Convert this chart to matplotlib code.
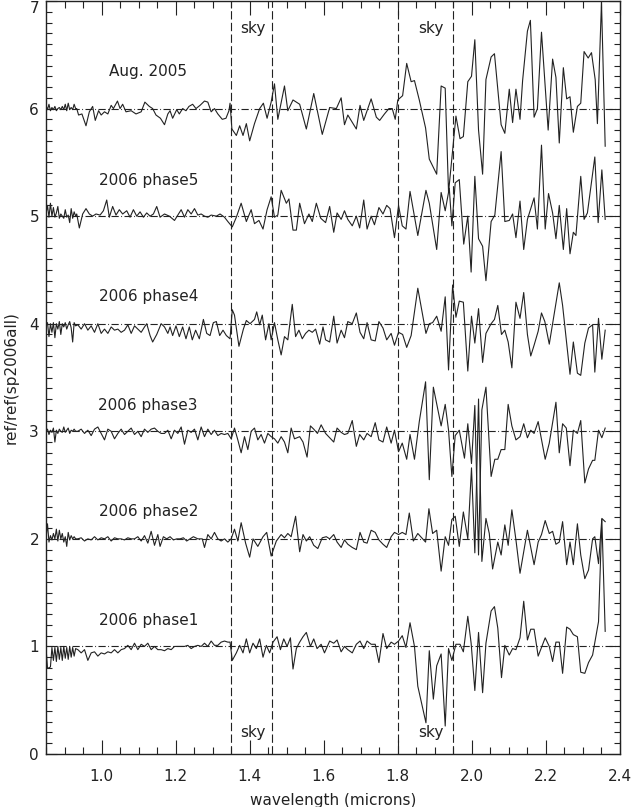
"""比值光谱图：各期 ref/ref(sp2006all)，按 1 的间隔纵向错开。"""

import numpy as np
from matplotlib import pyplot as plt
from matplotlib.ticker import MultipleLocator

plt.rcParams['font.family'] = ['DejaVu Sans']

# ------------------------------------------------------------
# 数据
# ------------------------------------------------------------

# 短波端的密集采样段（各条曲线共用）
dense_wl = [0.850, 0.854, 0.858, 0.862, 0.866, 0.870, 0.874, 0.878, 0.882,
            0.886, 0.890, 0.894, 0.898, 0.902, 0.906, 0.910, 0.914, 0.918,
            0.922, 0.926, 0.930]

# Aug. 2005 （偏移 6）
aug_wl = dense_wl + [
    0.933, 0.938, 0.947, 0.958, 0.967, 0.976, 0.983, 0.992, 0.999, 1.008,
    1.017, 1.026, 1.032, 1.043, 1.050, 1.057, 1.066, 1.080, 1.093, 1.107,
    1.117, 1.129, 1.138, 1.147, 1.159, 1.170, 1.179, 1.185, 1.192, 1.203,
    1.210, 1.219, 1.228, 1.236, 1.246, 1.255, 1.266, 1.278, 1.287, 1.296,
    1.305, 1.314, 1.326, 1.336, 1.344, 1.347, 1.352, 1.364, 1.373, 1.382,
    1.391, 1.400, 1.413, 1.427, 1.437, 1.447, 1.458, 1.467, 1.476, 1.494,
    1.503, 1.517, 1.535, 1.553, 1.573, 1.596,
    1.616, 1.634, 1.647, 1.656, 1.665, 1.688, 1.698, 1.708, 1.728, 1.742,
    1.751, 1.764, 1.776, 1.785, 1.793, 1.800, 1.813, 1.824, 1.836, 1.845,
    1.858, 1.875, 1.885, 1.905, 1.917, 1.928, 1.937, 1.957, 1.968, 1.977,
    1.989, 1.999, 2.008, 2.018, 2.029, 2.038, 2.052, 2.061, 2.079, 2.089,
    2.101, 2.110, 2.119, 2.130, 2.137, 2.150, 2.158, 2.168, 2.177, 2.188,
    2.206, 2.218, 2.227, 2.236, 2.247, 2.256, 2.265, 2.274, 2.285, 2.294,
    2.303, 2.314, 2.323, 2.333, 2.339, 2.350, 2.360]
aug_val = [
    6.03, 5.99, 6.04, 5.98, 6.01, 5.99, 6.02, 5.98, 6.00, 6.01, 5.99, 6.02,
    5.99, 6.04, 5.98, 6.05, 5.99, 6.01, 5.99, 6.04, 6.00,
    6.00, 5.94, 5.95, 5.84, 5.97, 6.02, 5.89, 5.98, 5.94, 5.97,
    5.95, 6.03, 6.00, 6.07, 6.00, 6.04, 5.97, 5.98, 5.95, 5.97,
    6.06, 6.02, 6.00, 5.94, 5.91, 5.85, 5.95, 5.98, 5.91, 5.99,
    5.95, 6.00, 5.98, 6.02, 6.04, 6.00, 6.03, 6.07, 6.06, 5.97,
    6.00, 5.95, 5.90, 5.91, 5.98, 6.05, 5.81, 5.75, 5.84, 5.75,
    5.86, 5.70, 5.86, 6.00, 6.05, 5.91, 6.06, 6.23, 5.90, 6.21,
    5.98, 6.08, 6.04, 5.81, 6.14, 5.76,
    6.01, 6.00, 6.10, 5.85, 5.94, 5.81, 6.03, 5.89, 6.09, 5.92,
    5.89, 5.95, 6.00, 6.00, 5.90, 6.08, 6.12, 6.42, 6.25, 6.26,
    6.08, 5.82, 5.53, 5.39, 6.21, 6.19, 5.22, 5.93, 5.72, 5.74,
    6.25, 6.30, 6.64, 5.80, 5.39, 6.27, 6.48, 6.51, 5.85, 5.77,
    6.18, 5.87, 6.18, 5.90, 6.26, 6.72, 6.82, 5.92, 6.00, 6.71,
    5.80, 6.46, 6.29, 5.68, 6.38, 6.09, 6.11, 5.78, 6.02, 6.05,
    6.53, 6.47, 6.52, 6.27, 5.86, 6.99, 5.65]

# 2006 phase5 （偏移 5）
p5_wl = dense_wl + [
    0.933, 0.940, 0.949, 0.958, 0.967, 0.976, 0.985, 0.996, 1.005, 1.014,
    1.021, 1.030, 1.039, 1.048, 1.057, 1.068, 1.077, 1.086, 1.095, 1.104,
    1.113, 1.122, 1.131, 1.140, 1.149, 1.158, 1.170, 1.183, 1.197, 1.206,
    1.215, 1.224, 1.233, 1.242, 1.251, 1.260, 1.269, 1.278, 1.287, 1.296,
    1.310, 1.320, 1.332, 1.341, 1.353, 1.364, 1.377, 1.391, 1.404, 1.413,
    1.425, 1.436, 1.447, 1.458, 1.467, 1.476, 1.485, 1.499, 1.506, 1.517,
    1.526, 1.535, 1.548, 1.560, 1.569, 1.580, 1.592, 1.605,
    1.616, 1.627, 1.636, 1.647, 1.656, 1.665, 1.677, 1.688, 1.697, 1.708,
    1.717, 1.728, 1.737, 1.749, 1.760, 1.770, 1.779, 1.791, 1.802, 1.812,
    1.822, 1.833, 1.854, 1.876, 1.885, 1.905, 1.917, 1.928, 1.939, 1.946,
    1.955, 1.966, 1.978, 1.989, 1.998, 2.008, 2.018, 2.029, 2.038, 2.052,
    2.062, 2.079, 2.089, 2.101, 2.110, 2.119, 2.130, 2.140, 2.150, 2.168,
    2.177, 2.188, 2.198, 2.207, 2.218, 2.227, 2.236, 2.247, 2.256, 2.265,
    2.274, 2.281, 2.294, 2.303, 2.312, 2.332, 2.341, 2.351, 2.360]
p5_val = [
    5.02, 5.10, 4.99, 5.12, 5.00, 5.08, 4.99, 5.03, 5.09, 4.98, 5.02, 5.00,
    4.98, 5.06, 4.99, 5.01, 4.94, 5.07, 4.98, 5.04, 5.00,
    5.02, 4.89, 5.02, 5.07, 5.02, 5.00, 5.02, 5.01, 5.05, 5.15,
    4.99, 5.09, 5.01, 5.06, 5.02, 5.05, 4.99, 5.06, 5.00, 5.04,
    4.99, 5.03, 5.00, 5.02, 5.09, 4.99, 5.02, 5.00, 4.96, 5.01,
    5.06, 4.99, 5.06, 5.02, 5.07, 5.01, 5.02, 5.00, 4.99, 5.01,
    5.00, 5.02, 4.99, 4.95, 4.90, 4.99, 5.12, 4.95, 5.06, 4.93,
    4.96, 4.88, 5.06, 5.18, 4.99, 5.01, 5.24, 5.12, 5.16, 4.87,
    4.87, 5.12, 4.93, 5.02, 4.95, 5.12, 4.98, 4.94,
    5.09, 4.85, 5.03, 4.97, 5.05, 4.97, 4.91, 5.00, 4.89, 5.15,
    4.88, 5.00, 4.92, 5.08, 5.02, 5.10, 5.07, 4.80, 5.10, 4.91,
    4.88, 5.23, 4.82, 5.24, 5.12, 4.69, 5.22, 5.05, 5.26, 4.91,
    5.31, 5.34, 4.74, 5.00, 4.48, 5.37, 4.79, 4.72, 4.40, 4.95,
    5.01, 5.60, 4.95, 4.96, 5.02, 4.80, 5.14, 4.69, 4.97, 5.17,
    4.88, 5.66, 4.88, 5.21, 5.03, 4.79, 5.10, 4.69, 5.07, 4.65,
    4.85, 4.82, 5.37, 4.97, 5.03, 5.55, 4.94, 5.43, 4.97]

# 2006 phase4 （偏移 4）
p4_wl = dense_wl + [
    0.936, 0.945, 0.954, 0.963, 0.972, 0.981, 0.990, 0.999, 1.008, 1.017,
    1.026, 1.035, 1.044, 1.053, 1.062, 1.071, 1.080, 1.089, 1.098, 1.107,
    1.116, 1.122, 1.131, 1.138, 1.149, 1.161, 1.170, 1.179, 1.185, 1.192,
    1.201, 1.210, 1.219, 1.228, 1.237, 1.245, 1.254, 1.264, 1.275, 1.284,
    1.293, 1.302, 1.310, 1.319, 1.328, 1.337, 1.347, 1.353, 1.359, 1.371,
    1.383, 1.391, 1.401, 1.413, 1.419, 1.427, 1.434, 1.443, 1.452, 1.458,
    1.467, 1.476, 1.485, 1.494, 1.503, 1.515, 1.524, 1.533, 1.542, 1.551,
    1.560, 1.569, 1.578, 1.589, 1.598, 1.605,
    1.616, 1.627, 1.636, 1.647, 1.656, 1.665, 1.677, 1.688, 1.698, 1.708,
    1.717, 1.728, 1.739, 1.749, 1.760, 1.770, 1.782, 1.791, 1.802, 1.813,
    1.824, 1.836, 1.854, 1.876, 1.885, 1.894, 1.905, 1.917, 1.928, 1.937,
    1.948, 1.957, 1.966, 1.977, 1.989, 1.999, 2.008, 2.018, 2.029, 2.038,
    2.052, 2.061, 2.070, 2.080, 2.089, 2.098, 2.108, 2.119, 2.130, 2.140,
    2.150, 2.159, 2.168, 2.179, 2.188, 2.197, 2.209, 2.236, 2.245, 2.265,
    2.274, 2.285, 2.294, 2.305, 2.315, 2.326, 2.332, 2.342, 2.351, 2.360]
p4_val = [
    3.98, 4.01, 3.88, 4.00, 3.92, 4.01, 3.87, 4.00, 3.95, 4.02, 3.90, 4.00,
    3.97, 4.01, 3.95, 3.99, 4.02, 3.96, 3.83, 4.01, 3.98,
    3.99, 3.95, 4.00, 3.94, 3.98, 3.92, 4.00, 3.91, 3.95, 3.91,
    3.97, 3.94, 3.95, 3.92, 3.94, 3.99, 3.91, 3.98, 3.95, 3.92,
    3.97, 4.00, 3.89, 3.83, 3.90, 4.00, 3.97, 3.91, 3.97, 3.89,
    3.98, 3.88, 3.97, 3.86, 3.97, 3.85, 3.94, 3.86, 4.04, 3.91,
    3.89, 4.01, 4.02, 3.89, 3.94, 3.89, 3.86, 4.13, 4.08, 3.79,
    3.95, 4.03, 4.00, 4.04, 4.11, 3.99, 4.08, 3.85, 4.00, 3.85,
    4.01, 3.85, 3.71, 3.88, 3.85, 4.18, 3.88, 3.94, 3.86, 3.91,
    3.94, 3.92, 3.95, 3.81, 3.97, 3.85,
    3.83, 4.07, 3.82, 3.94, 3.87, 4.02, 4.00, 4.10, 3.92, 3.86,
    4.01, 3.85, 3.84, 4.02, 3.96, 3.85, 3.91, 3.80, 3.92, 3.90,
    3.78, 3.89, 4.33, 3.91, 4.00, 4.01, 4.07, 3.93, 4.25, 3.57,
    4.36, 4.06, 4.21, 4.20, 3.56, 4.07, 3.82, 4.14, 3.64, 3.91,
    4.00, 4.04, 4.17, 3.90, 3.94, 3.83, 3.59, 4.20, 4.05, 4.29,
    3.90, 3.70, 3.80, 3.93, 4.10, 4.02, 3.81, 4.38, 4.17, 3.53,
    3.83, 3.54, 3.52, 3.82, 3.96, 3.99, 3.55, 4.05, 3.67, 3.94]

# 2006 phase3 （偏移 3）
p3_wl = dense_wl + [
    0.936, 0.945, 0.954, 0.963, 0.972, 0.981, 0.990, 0.999, 1.008, 1.017,
    1.026, 1.035, 1.044, 1.053, 1.062, 1.071, 1.080, 1.089, 1.098, 1.107,
    1.116, 1.125, 1.134, 1.143, 1.152, 1.161, 1.170, 1.179, 1.188, 1.197,
    1.206, 1.215, 1.224, 1.233, 1.242, 1.251, 1.260, 1.269, 1.278, 1.287,
    1.296, 1.305, 1.314, 1.323, 1.332, 1.341, 1.350, 1.359, 1.368, 1.377,
    1.386, 1.395, 1.404, 1.413, 1.422, 1.431, 1.440, 1.449, 1.458, 1.467,
    1.476, 1.485, 1.494, 1.503, 1.512, 1.521, 1.535, 1.544, 1.555, 1.564,
    1.573, 1.583, 1.593, 1.605,
    1.616, 1.627, 1.636, 1.647, 1.656, 1.665, 1.677, 1.688, 1.697, 1.708,
    1.717, 1.728, 1.739, 1.749, 1.760, 1.770, 1.782, 1.791, 1.802, 1.812,
    1.824, 1.833, 1.845, 1.858, 1.875, 1.885, 1.896, 1.917, 1.928, 1.937,
    1.946, 1.955, 1.966, 1.980, 1.989, 1.999, 2.008, 2.018, 2.027, 2.038,
    2.052, 2.062, 2.070, 2.079, 2.089, 2.098, 2.108, 2.119, 2.130, 2.140,
    2.150, 2.159, 2.168, 2.179, 2.198, 2.209, 2.227, 2.236, 2.245, 2.255,
    2.265, 2.274, 2.285, 2.294, 2.305, 2.315, 2.326, 2.332, 2.342, 2.351,
    2.360]
p3_val = [
    3.00, 3.02, 2.97, 3.01, 2.99, 3.03, 2.90, 3.01, 2.98, 3.02, 3.00, 2.99,
    3.04, 2.99, 3.01, 3.03, 2.98, 3.01, 3.00, 3.02, 3.00,
    3.00, 3.02, 2.98, 3.01, 2.96, 3.02, 3.04, 2.98, 2.92, 3.02,
    3.00, 2.93, 2.98, 3.02, 2.97, 3.00, 3.03, 2.97, 3.00, 2.95,
    3.02, 2.99, 3.02, 3.03, 3.00, 2.98, 2.98, 3.01, 2.93, 3.01,
    2.98, 3.04, 2.88, 3.01, 2.99, 3.02, 2.92, 3.04, 2.95, 3.02,
    2.97, 3.01, 2.96, 2.98, 2.97, 2.98, 2.93, 3.03, 2.92, 2.80,
    2.95, 2.83, 3.00, 3.03, 2.92, 2.97, 2.89, 2.98, 2.95, 2.93,
    2.89, 2.95, 2.90, 2.80, 3.03, 2.93, 2.95, 2.90, 2.76, 3.05,
    3.02, 2.98, 3.06, 2.98,
    2.94, 2.90, 3.03, 2.99, 2.97, 2.98, 3.10, 2.86, 2.97, 2.92,
    2.98, 2.95, 3.08, 2.92, 2.90, 3.04, 2.89, 3.01, 2.81, 2.89,
    2.74, 2.97, 2.74, 3.09, 3.46, 2.55, 3.41, 3.05, 3.25, 3.01,
    2.58, 2.96, 3.01, 2.75, 3.07, 2.70, 3.24, 1.85, 3.20, 3.41,
    2.58, 2.74, 2.74, 2.83, 2.83, 3.25, 3.05, 2.92, 2.95, 3.07,
    2.94, 3.01, 2.98, 3.09, 2.74, 2.89, 3.27, 2.80, 3.07, 3.03,
    2.68, 3.01, 2.98, 3.10, 2.52, 2.65, 2.73, 2.73, 3.01, 2.94,
    3.03]

# 2006 phase2 （偏移 2）
p2_wl = dense_wl + [
    0.936, 0.945, 0.954, 0.963, 0.972, 0.981, 0.990, 0.999, 1.008, 1.017,
    1.026, 1.035, 1.044, 1.053, 1.062, 1.071, 1.080, 1.089, 1.098, 1.107,
    1.116, 1.125, 1.134, 1.143, 1.152, 1.158, 1.167, 1.176, 1.185, 1.194,
    1.203, 1.212, 1.221, 1.230, 1.239, 1.248, 1.260, 1.272, 1.278, 1.287,
    1.296, 1.305, 1.314, 1.323, 1.332, 1.341, 1.350, 1.359, 1.368, 1.377,
    1.389, 1.400, 1.409, 1.422, 1.436, 1.446, 1.458, 1.472, 1.485, 1.494,
    1.503, 1.512, 1.524, 1.535, 1.544, 1.553, 1.562, 1.573, 1.584, 1.596,
    1.607,
    1.616, 1.627, 1.636, 1.647, 1.656, 1.665, 1.677, 1.688, 1.698, 1.708,
    1.717, 1.728, 1.739, 1.749, 1.760, 1.770, 1.782, 1.791, 1.802, 1.812,
    1.822, 1.831, 1.842, 1.854, 1.875, 1.884, 1.894, 1.905, 1.917, 1.928,
    1.937, 1.946, 1.955, 1.966, 1.977, 1.989, 1.999, 2.008, 2.018, 2.027,
    2.038, 2.047, 2.056, 2.070, 2.079, 2.089, 2.098, 2.108, 2.119, 2.130,
    2.150, 2.168, 2.179, 2.188, 2.198, 2.209, 2.218, 2.227, 2.236, 2.245,
    2.256, 2.265, 2.274, 2.285, 2.294, 2.305, 2.315, 2.326, 2.332, 2.342,
    2.351, 2.360]
p2_val = [
    2.00, 2.14, 1.97, 2.03, 1.99, 2.05, 2.00, 2.09, 1.98, 2.08, 2.00, 2.05,
    1.97, 2.02, 1.93, 2.06, 1.99, 2.03, 2.00, 2.02, 2.00,
    2.00, 2.01, 1.98, 2.00, 1.99, 2.02, 1.99, 2.01, 2.00, 2.02,
    1.98, 2.01, 2.00, 2.00, 1.99, 2.01, 2.00, 2.00, 2.02, 1.98,
    2.03, 1.96, 2.07, 1.94, 2.04, 1.93, 2.02, 2.00, 2.02, 1.99,
    2.00, 2.00, 2.01, 1.98, 2.00, 2.02, 2.00, 2.00, 1.92, 2.04,
    2.00, 2.06, 2.00, 1.98, 2.00, 1.97, 2.00, 2.09, 1.98, 2.15,
    1.96, 1.83, 2.00, 1.93, 2.02, 2.06, 1.84, 1.98, 2.04, 2.01,
    2.05, 2.02, 2.21, 1.88, 2.04, 1.98, 2.02, 1.94, 1.91, 2.01,
    2.02,
    2.00, 2.04, 1.97, 1.92, 1.99, 1.95, 1.92, 1.90, 2.06, 1.97,
    1.96, 2.08, 2.06, 1.99, 1.95, 1.92, 2.02, 2.06, 2.04, 2.06,
    2.04, 2.24, 1.98, 2.05, 1.97, 2.28, 2.05, 2.08, 1.70, 2.02,
    1.94, 2.18, 2.21, 1.93, 2.25, 2.00, 2.66, 1.87, 3.30, 1.79,
    2.19, 2.05, 1.72, 1.97, 1.85, 2.13, 1.94, 2.27, 1.99, 1.68,
    2.08, 1.76, 1.97, 2.04, 2.17, 2.05, 2.07, 1.95, 1.97, 2.16,
    1.76, 1.97, 1.76, 2.14, 1.85, 1.63, 1.71, 2.00, 2.02, 1.77,
    2.19, 2.16]

# 2006 phase1 （偏移 1）
p1_wl = dense_wl + [
    0.936, 0.945, 0.954, 0.963, 0.972, 0.981, 0.990, 0.999, 1.008, 1.017,
    1.026, 1.035, 1.044, 1.053, 1.062, 1.071, 1.080, 1.089, 1.098, 1.107,
    1.116, 1.125, 1.134, 1.143, 1.152, 1.161, 1.170, 1.179, 1.188, 1.197,
    1.206, 1.215, 1.224, 1.233, 1.242, 1.251, 1.260, 1.269, 1.278, 1.287,
    1.296, 1.305, 1.314, 1.323, 1.332, 1.341, 1.347, 1.353, 1.364, 1.373,
    1.382, 1.391, 1.400, 1.409, 1.418, 1.427, 1.436, 1.445, 1.454, 1.463,
    1.474, 1.483, 1.492, 1.501, 1.510, 1.517, 1.526, 1.535, 1.544, 1.553,
    1.564, 1.573, 1.582, 1.593, 1.602,
    1.616, 1.627, 1.636, 1.647, 1.656, 1.665, 1.677, 1.688, 1.698, 1.708,
    1.717, 1.728, 1.739, 1.749, 1.760, 1.770, 1.782, 1.791, 1.802, 1.812,
    1.822, 1.833, 1.845, 1.854, 1.876, 1.885, 1.896, 1.905, 1.917, 1.928,
    1.937, 1.946, 1.957, 1.968, 1.977, 1.989, 1.998, 2.008, 2.018, 2.029,
    2.038, 2.052, 2.061, 2.070, 2.080, 2.089, 2.101, 2.110, 2.119, 2.130,
    2.140, 2.150, 2.159, 2.168, 2.179, 2.198, 2.209, 2.218, 2.227, 2.236,
    2.245, 2.256, 2.265, 2.274, 2.285, 2.294, 2.305, 2.315, 2.326, 2.342,
    2.351, 2.360]
p1_val = [
    0.99, 0.80, 0.80, 0.81, 0.99, 0.87, 0.99, 0.86, 1.00, 0.88, 0.99, 0.87,
    1.00, 0.89, 0.99, 0.88, 1.00, 0.90, 0.99, 0.91, 0.98,
    0.97, 0.94, 0.97, 0.87, 0.94, 0.95, 0.91, 0.94, 0.93, 0.95,
    0.94, 0.97, 0.94, 0.97, 0.98, 1.01, 0.97, 1.03, 0.97, 1.02,
    1.00, 1.03, 0.97, 1.00, 0.97, 0.97, 0.96, 0.98, 0.97, 1.00,
    1.00, 1.00, 1.00, 1.01, 0.98, 1.00, 1.01, 1.00, 1.03, 1.00,
    1.05, 1.01, 1.01, 1.04, 1.05, 1.04, 1.04, 0.87, 0.94, 1.01,
    0.94, 1.07, 0.94, 1.03, 0.98, 1.07, 0.90, 1.01, 0.94, 1.04,
    1.09, 0.97, 1.07, 1.00, 1.08, 0.79, 0.98, 1.04, 1.09, 1.13,
    1.00, 1.07, 0.98, 1.02, 0.94,
    1.05, 1.03, 1.06, 0.95, 1.00, 0.97, 0.94, 1.02, 1.05, 0.98,
    1.05, 1.02, 1.02, 0.85, 1.12, 0.98, 1.04, 1.02, 1.05, 1.10,
    0.99, 1.22, 1.00, 0.63, 0.29, 0.96, 0.51, 0.82, 0.93, 0.26,
    0.98, 0.87, 1.02, 1.02, 0.95, 1.28, 1.03, 0.59, 1.13, 0.57,
    1.03, 1.33, 1.37, 1.17, 0.71, 1.01, 0.92, 0.98, 0.97, 1.08,
    1.42, 1.06, 1.16, 1.16, 0.91, 1.08, 1.00, 0.86, 1.04, 1.04,
    0.75, 1.18, 1.16, 1.11, 1.09, 0.76, 0.75, 0.85, 0.92, 1.23,
    2.18, 1.14]

series = [
    (aug_wl, aug_val, 'Aug. 2005', 6.34),
    (p5_wl, p5_val, '2006 phase5', 5.33),
    (p4_wl, p4_val, '2006 phase4', 4.25),
    (p3_wl, p3_val, '2006 phase3', 3.24),
    (p2_wl, p2_val, '2006 phase2', 2.25),
    (p1_wl, p1_val, '2006 phase1', 1.245),
]

# 天空吸收带边界
sky_edges = [1.35, 1.46, 1.80, 1.95]
sky_centers = [1.409, 1.888]
offsets = [1, 2, 3, 4, 5, 6]

# ------------------------------------------------------------
# 绘图
# ------------------------------------------------------------
INK = '#222222'

fig = plt.figure(figsize=(6.34, 8.07), dpi=100)
ax = fig.add_axes([46 / 634, 53 / 807, 574 / 634, 753 / 807])

for wl, val, label, ylab in series:
    ax.plot(wl, val, color=INK, lw=0.8)
    ax.text(1.126, ylab, label, ha='center', va='center', fontsize=11,
            color=INK)

# 参考水平线（点划线）
for y in offsets:
    ax.axhline(y, color=INK, lw=0.8, linestyle=(0, (6.5, 2.2, 0.8, 2.2)))

# 天空区域竖虚线
for x in sky_edges:
    ax.axvline(x, color=INK, lw=0.8, linestyle=(0, (7.5, 3.0)))

for xc in sky_centers:
    ax.text(xc, 6.74, 'sky', ha='center', va='center', fontsize=11, color=INK)
    ax.text(xc, 0.20, 'sky', ha='center', va='center', fontsize=11, color=INK)

ax.set_xlim(0.85, 2.4)
ax.set_ylim(0, 7)
ax.xaxis.set_major_locator(MultipleLocator(0.2))
ax.xaxis.set_minor_locator(MultipleLocator(0.05))
ax.yaxis.set_major_locator(MultipleLocator(1))
ax.yaxis.set_minor_locator(MultipleLocator(0.1))
ax.xaxis.set_major_formatter(plt.FormatStrFormatter('%.1f'))

ax.tick_params(axis='x', which='major', direction='in', top=True,
               length=10, width=0.8, pad=11, labelsize=11, colors=INK)
ax.tick_params(axis='x', which='minor', direction='in', top=True,
               length=5, width=0.8, colors=INK)
ax.tick_params(axis='y', which='major', direction='in', right=True,
               length=7.7, width=0.8, pad=5, labelsize=11, colors=INK)
ax.tick_params(axis='y', which='minor', direction='in', right=True,
               length=4, width=0.8, colors=INK)
for sp in ax.spines.values():
    sp.set_linewidth(1.0)
    sp.set_color(INK)

ax.set_xlabel('wavelength (microns)', fontsize=11, color=INK, labelpad=6)
ax.set_ylabel('ref/ref(sp2006all)', fontsize=11, color=INK, labelpad=8)

# 顶端的 "7" 贴着图边，改为顶对齐以免被裁掉
fig.canvas.draw()
for lab in ax.get_yticklabels():
    if lab.get_text() == '7':
        lab.set_va('top')

fig.savefig('out.png', dpi=100, facecolor='white')
plt.close(fig)
